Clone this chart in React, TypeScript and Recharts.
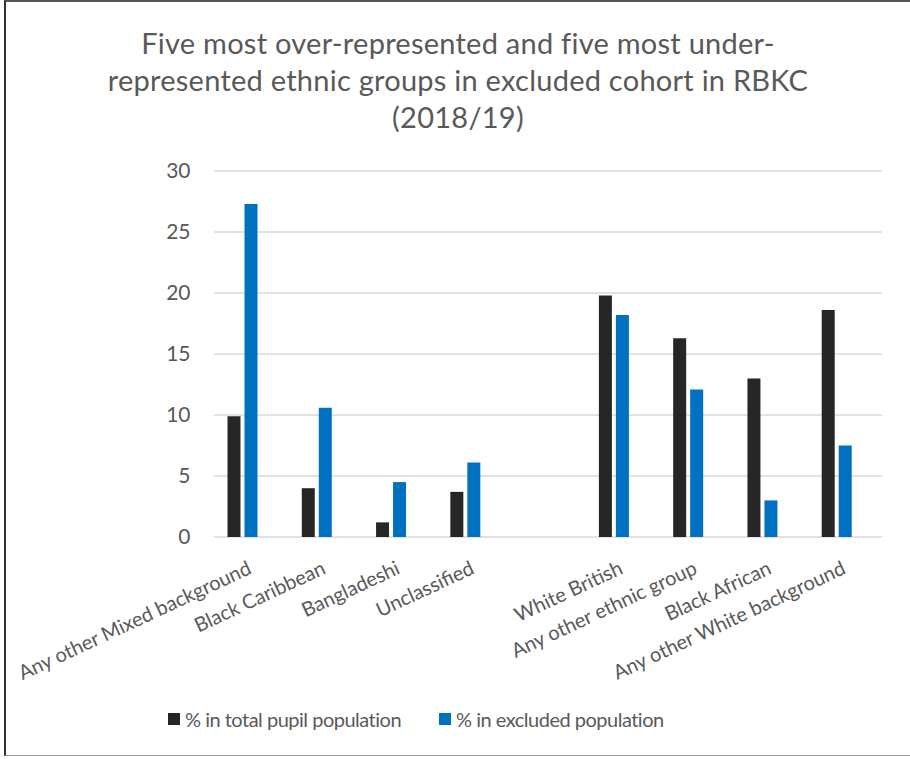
import { Bar, BarChart, CartesianGrid, XAxis, YAxis } from 'recharts'

const categories = [
  'Any other Mixed background',
  'Black Caribbean',
  'Bangladeshi',
  'Unclassified',
  '',
  'White British',
  'Any other ethnic group',
  'Black African',
  'Any other White background',
]
const totalPupils = [9.9, 4.0, 1.2, 3.7, null, 19.8, 16.3, 13.0, 18.6]
const excluded = [27.3, 10.6, 4.5, 6.1, null, 18.2, 12.1, 3.0, 7.5]
const yTicks = [0, 5, 10, 15, 20, 25, 30]

const seriesNames = ['% in total pupil population', '% in excluded population']
const colors = ['#262626', '#0070c0']

const FONT = 'Lato, "Open Sans", sans-serif'
const TEXT = '#595959'

const data = categories.map((name, i) => ({
  name,
  total: totalPupils[i],
  excluded: excluded[i],
}))

function CategoryTick({ x, y, payload }: any) {
  return (
    <g transform={`translate(${x + 10},${y + 28})`}>
      <text textAnchor="end" transform="rotate(-25)" fill={TEXT} fontSize={20} fontFamily={FONT}>
        {payload.value}
      </text>
    </g>
  )
}

export default function App() {
  return (
    <div style={{ position: 'absolute', left: 0, top: 0, width: 910, height: 759, background: '#fff', overflow: 'hidden' }}>
      <div
        style={{
          position: 'absolute',
          left: 4,
          top: 0,
          width: 906,
          height: 756,
          borderLeft: '2px solid #333',
          borderTop: '2px solid #555',
          borderBottom: '1px solid #999',
          boxSizing: 'border-box',
        }}
      />
      <div
        style={{
          position: 'absolute',
          left: 0,
          top: 24,
          width: 916,
          textAlign: 'center',
          fontFamily: FONT,
          fontSize: 29,
          letterSpacing: 0.25,
          lineHeight: '37px',
          color: TEXT,
        }}
      >
        Five most over-represented and five most under-
        <br />
        represented ethnic groups in excluded cohort in RBKC
        <br />
        (2018/19)
      </div>
      <BarChart
        width={910}
        height={759}
        data={data}
        margin={{ top: 171, right: 36, bottom: 72, left: 0 }}
        barSize={13}
        barGap={4}
      >
        <CartesianGrid vertical={false} x={214} width={668} stroke="#d9d9d9" strokeWidth={1.5} />
        <XAxis
          dataKey="name"
          interval={0}
          height={150}
          axisLine={false}
          tickLine={false}
          tick={<CategoryTick />}
        />
        <YAxis
          width={205.5}
          domain={[0, 30]}
          ticks={yTicks}
          axisLine={false}
          tickLine={false}
          tickMargin={9}
          tick={{ fill: TEXT, fontSize: 21, fontFamily: FONT }}
        />
        <Bar dataKey="total" name={seriesNames[0]} fill={colors[0]} isAnimationActive={false} />
        <Bar dataKey="excluded" name={seriesNames[1]} fill={colors[1]} isAnimationActive={false} />
      </BarChart>
      <div
        style={{
          position: 'absolute',
          left: 168,
          top: 707,
          display: 'flex',
          alignItems: 'center',
          fontFamily: FONT,
          fontSize: 20,
          letterSpacing: -0.5,
          color: TEXT,
          whiteSpace: 'nowrap',
        }}
      >
        <span style={{ display: 'inline-block', width: 12, height: 12, background: colors[0], marginRight: 5 }} />
        <span>{seriesNames[0]}</span>
        <span style={{ display: 'inline-block', width: 12, height: 12, background: colors[1], marginLeft: 38, marginRight: 5 }} />
        <span>{seriesNames[1]}</span>
      </div>
    </div>
  )
}
